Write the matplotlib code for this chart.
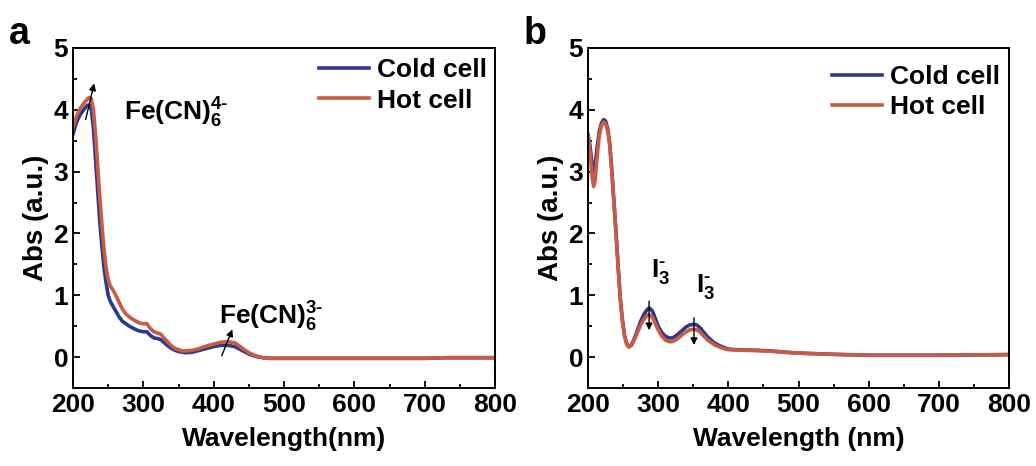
import matplotlib
matplotlib.use("Agg")
import matplotlib.pyplot as plt
from matplotlib.ticker import MultipleLocator

plt.rcParams['font.family'] = ['Liberation Sans', 'DejaVu Sans']
plt.rcParams['font.weight'] = 'bold'
plt.rcParams['mathtext.fontset'] = 'custom'
plt.rcParams['mathtext.rm'] = 'Liberation Sans:bold'
plt.rcParams['mathtext.it'] = 'Liberation Sans:bold'
plt.rcParams['mathtext.bf'] = 'Liberation Sans:bold'
plt.rcParams['mathtext.default'] = 'rm'

# ---------------- data ----------------
wl_a = [200, 205, 210, 215, 220, 223, 226, 229, 232, 235, 238, 241, 244, 247, 250,
        253, 256, 260, 265, 270, 275, 280, 285, 290, 295, 300, 305, 310, 315, 320,
        325, 330, 335, 340, 345, 350, 355, 360, 370, 380, 390, 400, 410, 420, 430,
        440, 450, 460, 470, 480, 500, 550, 600, 650, 700, 730, 760, 800]
cold_a = [3.61, 3.80, 3.92, 4.00, 4.07, 4.08, 4.00, 3.70, 3.20, 2.70, 2.20, 1.80, 1.45, 1.20, 1.00,
          0.90, 0.84, 0.76, 0.66, 0.58, 0.54, 0.50, 0.47, 0.44, 0.42, 0.41, 0.41, 0.35, 0.31, 0.30,
          0.28, 0.23, 0.18, 0.14, 0.11, 0.09, 0.08, 0.07, 0.08, 0.11, 0.14, 0.17, 0.19, 0.19, 0.17,
          0.11, 0.05, 0.01, -0.01, -0.02, -0.02, -0.02, -0.02, -0.02, -0.02, -0.01, -0.01, -0.01]
hot_a = [3.72, 3.90, 4.02, 4.10, 4.17, 4.20, 4.18, 4.00, 3.60, 3.10, 2.60, 2.15, 1.75, 1.45, 1.25,
         1.15, 1.10, 1.02, 0.90, 0.78, 0.70, 0.65, 0.61, 0.58, 0.55, 0.54, 0.54, 0.46, 0.41, 0.39,
         0.37, 0.30, 0.24, 0.18, 0.14, 0.12, 0.10, 0.10, 0.11, 0.14, 0.18, 0.21, 0.24, 0.25, 0.23,
         0.15, 0.07, 0.02, -0.01, -0.02, -0.02, -0.02, -0.02, -0.02, -0.02, -0.01, -0.01, -0.01]

wl_b = [200, 203, 206, 208, 210, 213, 216, 219, 222, 225, 228, 231, 234, 237, 240,
        243, 246, 249, 252, 255, 258, 262, 266, 270, 275, 280, 285, 288, 292, 296,
        300, 305, 310, 315, 320, 325, 330, 335, 340, 345, 350, 355, 360, 365, 370,
        380, 390, 400, 410, 420, 440, 460, 480, 500, 550, 600, 650, 700, 750, 800]
cold_b = [3.60, 3.40, 3.10, 3.02, 3.10, 3.40, 3.65, 3.78, 3.84, 3.82, 3.70, 3.45, 3.00, 2.50, 2.00,
          1.45, 0.95, 0.60, 0.35, 0.22, 0.17, 0.20, 0.30, 0.42, 0.58, 0.70, 0.78, 0.79, 0.74, 0.62,
          0.50, 0.40, 0.34, 0.31, 0.31, 0.34, 0.39, 0.44, 0.49, 0.52, 0.53, 0.52, 0.47, 0.40, 0.33,
          0.23, 0.17, 0.13, 0.12, 0.115, 0.11, 0.10, 0.08, 0.065, 0.045, 0.03, 0.03, 0.03, 0.035, 0.04]
hot_b = [3.58, 3.30, 2.90, 2.76, 2.85, 3.25, 3.58, 3.74, 3.80, 3.78, 3.66, 3.42, 2.98, 2.48, 1.98,
         1.43, 0.93, 0.58, 0.34, 0.21, 0.16, 0.19, 0.28, 0.39, 0.52, 0.62, 0.68, 0.68, 0.64, 0.54,
         0.44, 0.34, 0.28, 0.25, 0.25, 0.28, 0.32, 0.37, 0.41, 0.44, 0.45, 0.44, 0.40, 0.34, 0.28,
         0.20, 0.15, 0.12, 0.115, 0.11, 0.105, 0.095, 0.078, 0.063, 0.043, 0.03, 0.03, 0.03, 0.035, 0.04]

labels = ["Cold cell", "Hot cell"]
colors = ["#2b3990", "#cc5a42"]

fig = plt.figure(figsize=(10.36, 4.66), dpi=100)
ax_a = fig.add_axes([0.0705, 0.1674, 0.4073, 0.7296])
ax_b = fig.add_axes([0.5676, 0.1674, 0.4064, 0.7296])

for ax, wl, c, h in [(ax_a, wl_a, cold_a, hot_a), (ax_b, wl_b, cold_b, hot_b)]:
    ax.plot(wl, c, color=colors[0], lw=2.6, label=labels[0], solid_joinstyle='round')
    ax.plot(wl, h, color=colors[1], lw=2.6, label=labels[1], solid_joinstyle='round')
    ax.set_xlim(200, 800)
    ax.set_ylim(-0.5, 5)
    ax.xaxis.set_major_locator(MultipleLocator(100))
    ax.xaxis.set_minor_locator(MultipleLocator(50))
    ax.yaxis.set_major_locator(MultipleLocator(1))
    ax.yaxis.set_minor_locator(MultipleLocator(0.5))
    ax.tick_params(which='both', direction='in', top=False, right=False, labelsize=19, width=1.3)
    ax.tick_params(which='major', length=5)
    ax.tick_params(which='minor', length=3)
    for s in ax.spines.values():
        s.set_linewidth(1.4)
    ax.set_ylabel("Abs (a.u.)", fontsize=20, fontweight='bold', labelpad=3)
    ax.legend(loc='upper right', frameon=False, fontsize=19, handlelength=1.9,
              handletextpad=0.3, labelspacing=0.25, borderaxespad=0.3,
              bbox_to_anchor=(1.025, 1.025) if ax is ax_a else (1.022, 1.005))

ax_a.set_xlabel("Wavelength(nm)", fontsize=19, fontweight='bold', labelpad=7)
ax_b.set_xlabel("Wavelength (nm)", fontsize=19, fontweight='bold', labelpad=7)

# annotations panel a
ax_a.text(272, 3.83, r'Fe(CN)$_6^{4\text{-}}$', fontsize=19, fontweight='bold')
ax_a.text(407, 0.52, r'Fe(CN)$_6^{3\text{-}}$', fontsize=19, fontweight='bold')
ax_a.annotate('', xy=(231, 4.47), xytext=(217, 3.8),
              arrowprops=dict(arrowstyle='-|>', color='black', lw=1.0, mutation_scale=10))
ax_a.annotate('', xy=(428, 0.49), xytext=(410, -0.02),
              arrowprops=dict(arrowstyle='-|>', color='black', lw=1.0, mutation_scale=10))

# annotations panel b
ax_b.text(290, 1.3, r'I$_3^{\text{-}}$', fontsize=19, fontweight='bold')
ax_b.text(354, 1.06, r'I$_3^{\text{-}}$', fontsize=19, fontweight='bold')
ax_b.annotate('', xy=(287, 0.39), xytext=(287, 0.95),
              arrowprops=dict(arrowstyle='-|>', color='black', lw=1.0, mutation_scale=10))
ax_b.annotate('', xy=(351, 0.15), xytext=(351, 0.68),
              arrowprops=dict(arrowstyle='-|>', color='black', lw=1.0, mutation_scale=10))

fig.text(0.009, 0.905, 'a', fontsize=27, fontweight='bold')
fig.text(0.505, 0.905, 'b', fontsize=27, fontweight='bold')

fig.savefig("out.png", dpi=100)
